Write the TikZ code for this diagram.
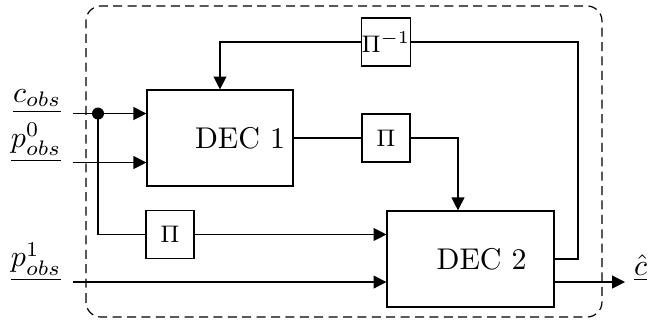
\documentclass[tikz,border=0pt]{standalone}
\usetikzlibrary{arrows.meta}
\tikzset{
  decbox/.style={draw, minimum height=1.125cm, inner sep=0pt},
  permbox/.style={draw, minimum size=0.562cm, inner sep=0pt, font=\footnotesize},
  arr/.style={-{Triangle[length=4.3pt,width=4.3pt]}},
  lbl/.style={inner sep=0pt},
}
\begin{document}
\begin{tikzpicture}
\useasboundingbox (0,0) rectangle (7.638,3.749);
\draw[dash pattern=on 3pt off 1.8pt, rounded corners=5pt] (1.007,0.035) rectangle (7.052,3.679);% decoder frame
\node[decbox, minimum width=1.71cm] (dec1) at (2.577,2.132) {\hspace{0.47cm}DEC 1};
\node[decbox, minimum width=1.956cm] (dec2) at (5.512,0.715) {\hspace{0.26cm}DEC 2};
\node[permbox] (piinv) at (4.522,3.257) {$\Pi^{-1}$};
\node[permbox] (pi1) at (4.522,2.132) {$\Pi$};
\node[permbox] (pi2) at (1.992,1.002) {$\Pi$};
\coordinate (cin) at (0.855,2.419);
\coordinate (p0in) at (0.855,1.845);
\coordinate (p1in) at (0.855,0.445);
\coordinate (split) at (1.148,2.419);
\coordinate (fb) at (6.771,3.257);
\coordinate (cout) at (7.322,0.445);
\node[lbl, anchor=south east] (cobs) at ([xshift=-0.13cm]cin) {$\underline{c_{obs}}$};
\node[lbl, anchor=south east] (p0obs) at ([xshift=-0.13cm]p0in) {$\underline{p^0_{obs}}$};
\node[lbl, anchor=south east] (p1obs) at ([xshift=-0.13cm]p1in) {$\underline{p^1_{obs}}$};
\node[lbl, anchor=south west] (chat) at ([xshift=0.1cm]cout) {$\underline{\hat{c}}$};
% inputs
\draw[arr] (cin) -- (cin -| dec1.west);
\draw[arr] (p0in) -- (p0in -| dec1.west);
\fill (split) circle (2pt);
\draw (split) |- (pi2.west);
\draw[arr] (pi2.east) -- (pi2.east -| dec2.west);
\draw[arr] (p1in) -- (p1in -| dec2.west);
% between the decoders
\draw (dec1.east) -- (pi1.west);
\draw[arr] (pi1.east) -| ([xshift=-0.147cm]dec2.north);
\draw (dec2.east) -| (fb) -- (piinv.east);
\draw[arr] (piinv.west) -| (dec1.north);
%\draw (dec2.south) -- ++(0,-0.2);
\draw[arr] (p1in -| dec2.east) -- (cout);
\end{tikzpicture}
\end{document}
